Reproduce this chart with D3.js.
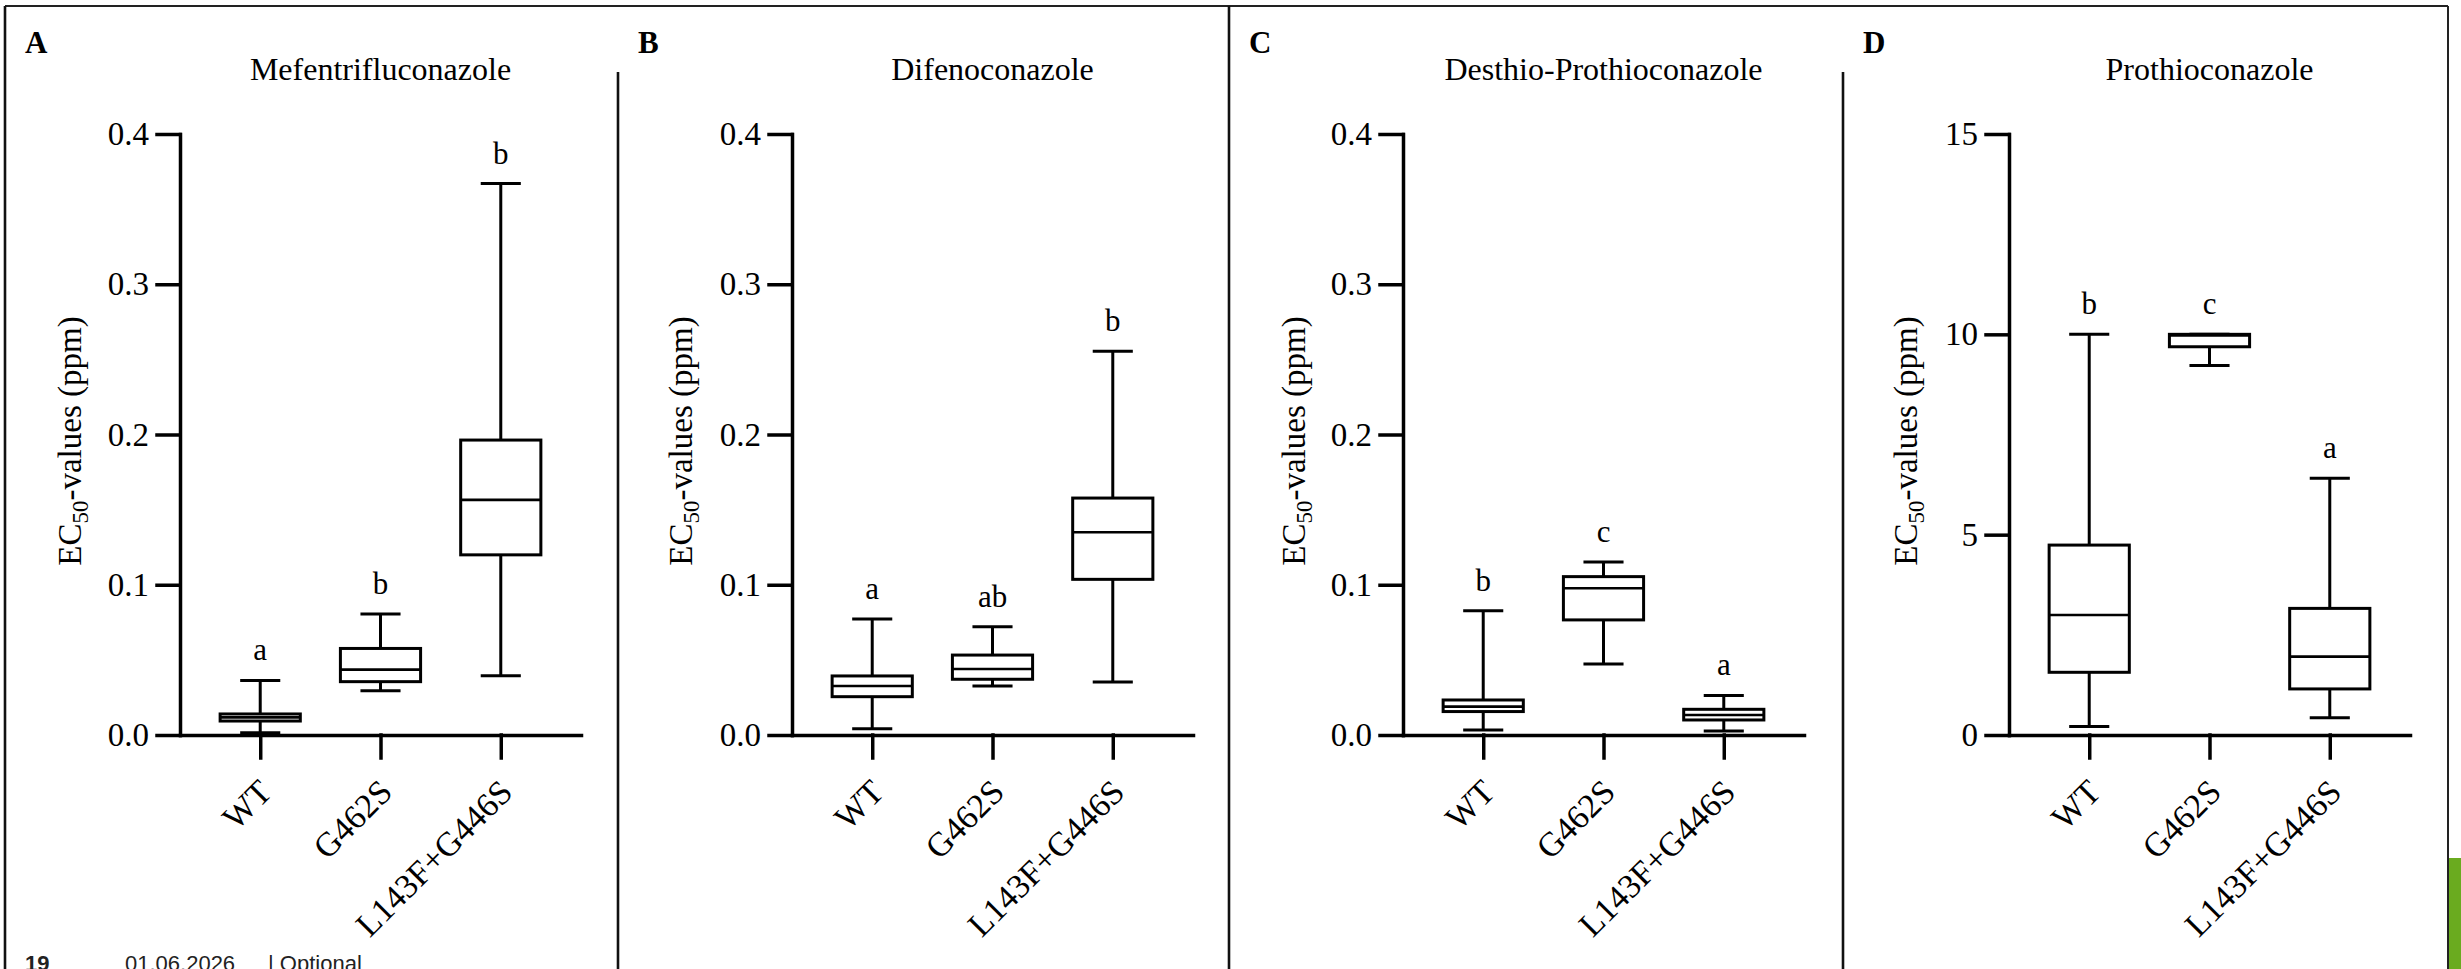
<!DOCTYPE html>
<html>
<head>
<meta charset="utf-8">
<script src="https://cdn.jsdelivr.net/npm/d3@7"></script>
<style>
  body { margin: 0; background: #fff; }
  svg { display: block; }
</style>
</head>
<body>
<div id="chart"></div>
<script>
// groups on the x axis, the same in every panel
var categories = ["WT", "G462S", "L143F+G446S"];

var panelLetters = ["A", "B", "C", "D"];
var panelTitles = ["Mefentrifluconazole", "Difenoconazole", "Desthio-Prothioconazole", "Prothioconazole"];

// y tick values
var ticksPpm = [0, 0.1, 0.2, 0.3, 0.4];
var ticksProthio = [0, 5, 10, 15];

// box stats: [min, q1, median, q3, max] for each group
var mefentrifluconazole = [
  [0.0015, 0.0093, 0.0117, 0.0140, 0.0363],
  [0.0295, 0.0355, 0.0435, 0.0576, 0.0805],
  [0.0394, 0.1199, 0.1565, 0.1963, 0.3670]
];
var difenoconazole = [
  [0.0042, 0.0255, 0.0326, 0.0393, 0.0772],
  [0.0326, 0.0371, 0.0439, 0.0532, 0.0721],
  [0.0353, 0.1036, 0.1349, 0.1577, 0.2554]
];
var desthioProthioconazole = [
  [0.0033, 0.0156, 0.0189, 0.0233, 0.0827],
  [0.0473, 0.0766, 0.0977, 0.1054, 0.1152],
  [0.0027, 0.0100, 0.0133, 0.0171, 0.0263]
];
var prothioconazole = [
  [0.21, 1.565, 2.995, 4.74, 10.0],
  [9.22, 9.69, 9.97, 10.0, 10.0],
  [0.43, 1.15, 1.955, 3.16, 6.41]
];

// significance letters above the whiskers
var lettersMef = ["a", "b", "b"];
var lettersDif = ["a", "ab", "b"];
var lettersDes = ["b", "c", "a"];
var lettersPro = ["b", "c", "a"];

var panels = [
  { stats: mefentrifluconazole, letters: lettersMef, ticks: ticksPpm, fmt: d3.format(".1f") },
  { stats: difenoconazole, letters: lettersDif, ticks: ticksPpm, fmt: d3.format(".1f") },
  { stats: desthioProthioconazole, letters: lettersDes, ticks: ticksPpm, fmt: d3.format(".1f") },
  { stats: prothioconazole, letters: lettersPro, ticks: ticksProthio, fmt: d3.format("d") }
];

// layout
var W = 2461, H = 969;
var axisX = [180, 792, 1403, 2009];     // y axis line of each panel
var sepX = [5, 618, 1229, 1843];        // frame line left of each panel
var yTitleX = [81, 692, 1305, 1917];
var plotTop = 134, plotH = 601, plotW = 401;
var serif = "'Liberation Serif', 'Times New Roman', serif";

var svg = d3.select("#chart")
    .append("svg")
    .attr("width", W)
    .attr("height", H);

svg.append("rect").attr("width", W).attr("height", H).attr("fill", "#fff");

// slide frame lines
svg.append("line")
    .attr("x1", 5).attr("x2", 2448).attr("y1", 6).attr("y2", 6)
    .attr("stroke", "#222").attr("stroke-width", 2);
svg.append("line")
    .attr("x1", 2448).attr("x2", 2448).attr("y1", 6).attr("y2", H)
    .attr("stroke", "#222").attr("stroke-width", 2);
sepX.forEach(function(x, i) {
  svg.append("line")
      .attr("x1", x).attr("x2", x)
      .attr("y1", (i == 0 || i == 2) ? 6 : 72).attr("y2", H)
      .attr("stroke", "#111").attr("stroke-width", 2.6);
});
svg.append("rect")
    .attr("x", 2449).attr("y", 858).attr("width", 12).attr("height", H - 858)
    .attr("fill", "#6aab1f");

panels.forEach(function(p, i) {
  var maxV = p.ticks[p.ticks.length - 1];

  var x = d3.scalePoint()
      .domain(categories)
      .range([0, plotW])
      .padding(0.667);
  var y = d3.scaleLinear()
      .domain([0, maxV])
      .range([plotH, 0]);

  var boxW = x.step() * 2 / 3,
      capW = boxW / 2;

  // panel letter and title
  svg.append("text")
      .attr("x", sepX[i] + 20).attr("y", 53)
      .attr("font-family", serif).attr("font-size", 31).attr("font-weight", "bold")
      .text(panelLetters[i]);

  var g = svg.append("g")
      .attr("transform", "translate(" + axisX[i] + "," + plotTop + ")");

  g.append("text")
      .attr("x", x(categories[1])).attr("y", 80 - plotTop)
      .attr("text-anchor", "middle")
      .attr("font-family", serif).attr("font-size", 32)
      .text(panelTitles[i]);

  // y axis title with subscript
  var yt = svg.append("text")
      .attr("transform", "translate(" + yTitleX[i] + ",441) rotate(-90)")
      .attr("text-anchor", "middle")
      .attr("font-family", serif).attr("font-size", 33);
  yt.append("tspan").text("EC");
  yt.append("tspan").attr("font-size", 23).attr("dy", 7).text("50");
  yt.append("tspan").attr("dy", -7).text("-values (ppm)");

  var groups = g.selectAll("g.box")
      .data(p.stats)
      .enter().append("g")
      .attr("class", "box")
      .attr("transform", function(d, j) { return "translate(" + x(categories[j]) + ",0)"; });

  // whiskers
  groups.append("line")
      .attr("y1", function(d) { return y(d[4]); })
      .attr("y2", function(d) { return y(d[3]); })
      .attr("stroke", "#000").attr("stroke-width", 3);
  groups.append("line")
      .attr("y1", function(d) { return y(d[1]); })
      .attr("y2", function(d) { return y(d[0]); })
      .attr("stroke", "#000").attr("stroke-width", 3);
  groups.append("line")
      .attr("x1", -capW / 2).attr("x2", capW / 2)
      .attr("y1", function(d) { return y(d[4]); })
      .attr("y2", function(d) { return y(d[4]); })
      .attr("stroke", "#000").attr("stroke-width", 3);
  groups.append("line")
      .attr("x1", -capW / 2).attr("x2", capW / 2)
      .attr("y1", function(d) { return y(d[0]); })
      .attr("y2", function(d) { return y(d[0]); })
      .attr("stroke", "#000").attr("stroke-width", 3);

  // box and median
  groups.append("rect")
      .attr("x", -boxW / 2).attr("width", boxW)
      .attr("y", function(d) { return y(d[3]); })
      .attr("height", function(d) { return y(d[1]) - y(d[3]); })
      .attr("fill", "#fff").attr("stroke", "#000").attr("stroke-width", 3);
  groups.append("line")
      .attr("x1", -boxW / 2).attr("x2", boxW / 2)
      .attr("y1", function(d) { return y(d[2]); })
      .attr("y2", function(d) { return y(d[2]); })
      .attr("stroke", "#000").attr("stroke-width", 2.6);

  groups.append("text")
      .attr("y", function(d) { return y(d[4]) - 20; })
      .attr("text-anchor", "middle")
      .attr("font-family", serif).attr("font-size", 31)
      .text(function(d, j) { return p.letters[j]; });

  // axes
  var yAxis = g.append("g")
      .call(d3.axisLeft(y).tickValues(p.ticks).tickFormat(p.fmt)
        .tickSize(23).tickSizeOuter(0).tickPadding(8));
  var xAxis = g.append("g")
      .attr("transform", "translate(0," + plotH + ")")
      .call(d3.axisBottom(x).tickSize(23).tickSizeOuter(0));

  [yAxis, xAxis].forEach(function(a) {
    a.attr("font-family", serif).attr("font-size", 33);
    a.selectAll("path, line").attr("stroke", "#000").attr("stroke-width", 3.5)
        .attr("stroke-linecap", "square");
    a.selectAll("text").attr("fill", "#000");
  });

  xAxis.selectAll("text")
      .attr("font-size", 34)
      .attr("text-anchor", "end")
      .attr("y", 0).attr("dy", 0)
      .attr("transform", "translate(13,59) rotate(-45)");
});

// slide footer, cut off by the bottom edge as on the slide
var footer = svg.append("g")
    .attr("font-family", "'Liberation Sans', Arial, sans-serif")
    .attr("font-size", 22)
    .attr("fill", "#222");
footer.append("text").attr("x", 25).attr("y", 971).attr("font-weight", "bold").text("19");
footer.append("text").attr("x", 125).attr("y", 971).text("01.06.2026");
footer.append("text").attr("x", 268).attr("y", 971).text("| Optional");
</script>
</body>
</html>
